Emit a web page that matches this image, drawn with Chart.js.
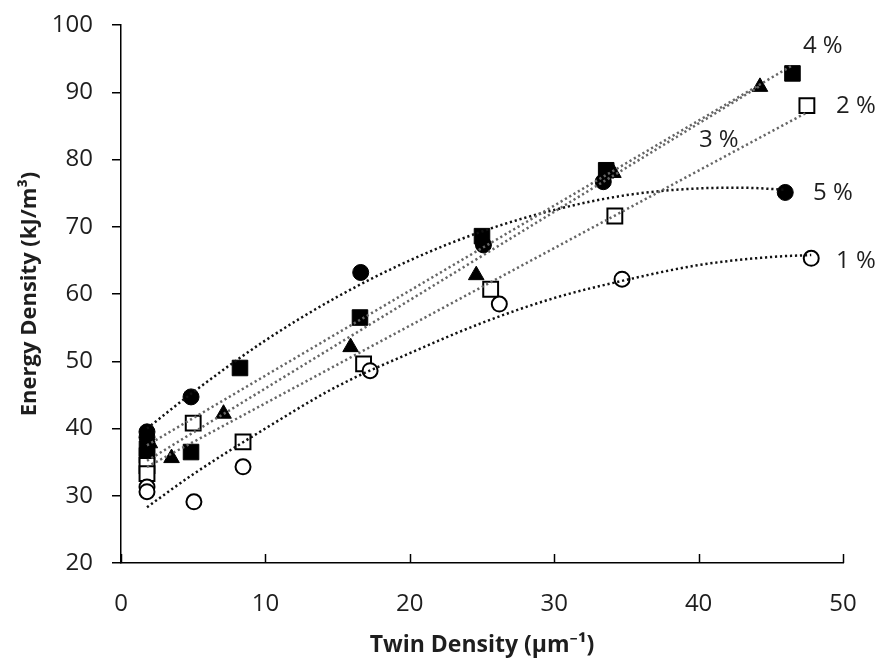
<!DOCTYPE html>
<html>
<head>
<meta charset="utf-8">
<script src="https://cdn.jsdelivr.net/npm/chart.js@4"></script>
<style>
  body { margin: 0; background: #fff; }
  canvas { display: block; }
</style>
</head>
<body>
<canvas id="myChart" width="877" height="659"></canvas>
<script>
// measured points, twin density (x) vs energy density (y)
var pct1X = [1.8, 1.8, 5.05, 8.45, 17.25, 26.2, 34.7, 47.8];
var pct1Y = [31.3, 30.6, 29.1, 34.3, 48.6, 58.5, 62.2, 65.3];
var pct2X = [1.8, 1.8, 5.0, 8.45, 16.8, 25.6, 34.2, 47.5];
var pct2Y = [34.5, 33.3, 40.8, 38.0, 49.6, 60.7, 71.6, 88.0];
var pct3X = [2.0, 3.5, 7.1, 15.9, 24.6, 34.1, 44.25];
var pct3Y = [37.8, 35.6, 42.2, 52.1, 62.8, 78.0, 90.8];
var pct4X = [1.8, 1.8, 4.85, 8.24, 16.55, 25.0, 33.6, 46.5];
var pct4Y = [37.0, 36.0, 36.5, 49.0, 56.5, 68.6, 78.4, 92.8];
var pct5X = [1.8, 1.8, 4.85, 16.6, 25.1, 33.4, 46.0];
var pct5Y = [39.5, 38.7, 44.7, 63.2, 67.3, 76.7, 75.1];

// trendlines
var trend1X = [1.8, 5, 10, 15, 20, 25, 30, 35, 40, 45, 47.8];
var trend1Y = [28.3, 33.2, 40.0, 46.3, 51.2, 55.7, 59.4, 62.1, 64.3, 65.5, 65.8];
var trend5X = [1.8, 5, 10, 15, 20, 25, 30, 35, 40, 43, 46];
var trend5Y = [40.0, 45.4, 53.1, 59.6, 65.0, 69.3, 72.5, 74.7, 75.7, 75.8, 75.5];
var trend2X = [1.8, 47.5];
var trend2Y = [34.3, 87.0];
var trend3X = [1.8, 44.3];
var trend3Y = [35.2, 91.0];
var trend4X = [1.8, 46.5];
var trend4Y = [37.5, 94.0];

// series labels next to the curves
var labelText = ['4 %', '2 %', '3 %', '5 %', '1 %'];
var labelX = [48.6, 50.9, 41.4, 49.3, 50.9];
var labelY = [96.8, 88.0, 82.9, 75.0, 64.9];

var xTicks = [0, 10, 20, 30, 40, 50];
var yTicks = [20, 30, 40, 50, 60, 70, 80, 90, 100];

function pts(xs, ys) {
	var out = [];
	for (var i = 0; i < xs.length; i++) out.push({x: xs[i], y: ys[i]});
	return out;
}

function trend(xs, ys, color, curved) {
	return {
		data: pts(xs, ys),
		showLine: true,
		borderColor: color,
		borderWidth: 2.5,
		borderDash: [2.2, 2.8],
		pointRadius: 0,
		fill: false,
		tension: curved ? 0.4 : 0,
		cubicInterpolationMode: curved ? 'monotone' : 'default',
		order: 0
	};
}

function marks(xs, ys, style, radius, filled) {
	return {
		data: pts(xs, ys),
		showLine: false,
		pointStyle: style,
		pointRadius: radius,
		pointBackgroundColor: filled ? '#000' : '#fff',
		pointBorderColor: '#000',
		pointBorderWidth: filled ? 1 : 2,
		order: 1
	};
}

var FONT = '"Open Sans", "Noto Sans", sans-serif';

// x ticks of the reference point up into the plot
var innerTicks = {
	id: 'innerTicks',
	afterDraw: function(chart) {
		var sx = chart.scales.x;
		var ctx = chart.ctx;
		ctx.save();
		ctx.strokeStyle = '#000';
		ctx.lineWidth = 1.5;
		for (var i = 0; i < xTicks.length; i++) {
			var px = Math.round(sx.getPixelForValue(xTicks[i])) + 0.5;
			ctx.beginPath();
			ctx.moveTo(px, sx.top);
			ctx.lineTo(px, sx.top - 9);
			ctx.stroke();
		}
		ctx.restore();
	}
};

var curveLabels = {
	id: 'curveLabels',
	afterDatasetsDraw: function(chart) {
		var sx = chart.scales.x, sy = chart.scales.y;
		var ctx = chart.ctx;
		ctx.save();
		ctx.font = '24px ' + FONT;
		ctx.fillStyle = '#1e1e1e';
		ctx.textAlign = 'center';
		ctx.textBaseline = 'middle';
		for (var i = 0; i < labelText.length; i++) {
			ctx.fillText(labelText[i], sx.getPixelForValue(labelX[i]), sy.getPixelForValue(labelY[i]));
		}
		ctx.restore();
	}
};

var ctx = document.getElementById('myChart').getContext('2d');
var chart = new Chart(ctx, {
	type: 'scatter',
	data: {
		datasets: [
			trend(trend4X, trend4Y, '#666', false),
			trend(trend3X, trend3Y, '#666', false),
			trend(trend2X, trend2Y, '#666', false),
			trend(trend5X, trend5Y, '#111', true),
			trend(trend1X, trend1Y, '#111', true),
			marks(pct1X, pct1Y, 'circle', 7.5, false),
			marks(pct2X, pct2Y, 'rect', 10.5, false),
			marks(pct3X, pct3Y, 'triangle', 9, true),
			marks(pct4X, pct4Y, 'rect', 11, true),
			marks(pct5X, pct5Y, 'circle', 8, true)
		]
	},
	options: {
		responsive: false,
		animation: false,
		devicePixelRatio: 1,
		layout: { padding: { top: 25, right: 34, left: 0, bottom: 0 } },
		plugins: { legend: { display: false }, tooltip: { enabled: false } },
		scales: {
			x: {
				type: 'linear',
				min: 0, max: 50,
				afterFit: function(s) { s.height = 96; s.paddingLeft = 0; s.paddingRight = 0; },
				afterBuildTicks: function(s) { s.ticks = xTicks.map(function(v) { return {value: v}; }); },
				grid: { drawOnChartArea: false, drawTicks: false },
				border: { color: '#000', width: 1.5 },
				ticks: { color: '#1e1e1e', padding: 27, font: { family: FONT, size: 24 } },
				title: {
					display: true,
					text: 'Twin Density (µm⁻¹)',
					color: '#1e1e1e',
					font: { family: FONT, size: 23, weight: 'bold' },
					padding: { top: 0, bottom: 0 }
				}
			},
			y: {
				type: 'linear',
				min: 20, max: 100,
				afterFit: function(s) { s.width = 121; s.paddingTop = 0; s.paddingBottom = 0; },
				afterBuildTicks: function(s) { s.ticks = yTicks.map(function(v) { return {value: v}; }); },
				grid: { drawOnChartArea: false, drawTicks: true, tickLength: 9, color: '#000', lineWidth: 1.5 },
				border: { color: '#000', width: 1.5 },
				ticks: { color: '#1e1e1e', padding: 19, font: { family: FONT, size: 24 } },
				title: {
					display: true,
					text: 'Energy Density (kJ/m³)',
					color: '#1e1e1e',
					font: { family: FONT, size: 22, weight: 'bold' },
					padding: { top: 17, bottom: 0 }
				}
			}
		}
	},
	plugins: [innerTicks, curveLabels]
});
</script>
</body>
</html>
